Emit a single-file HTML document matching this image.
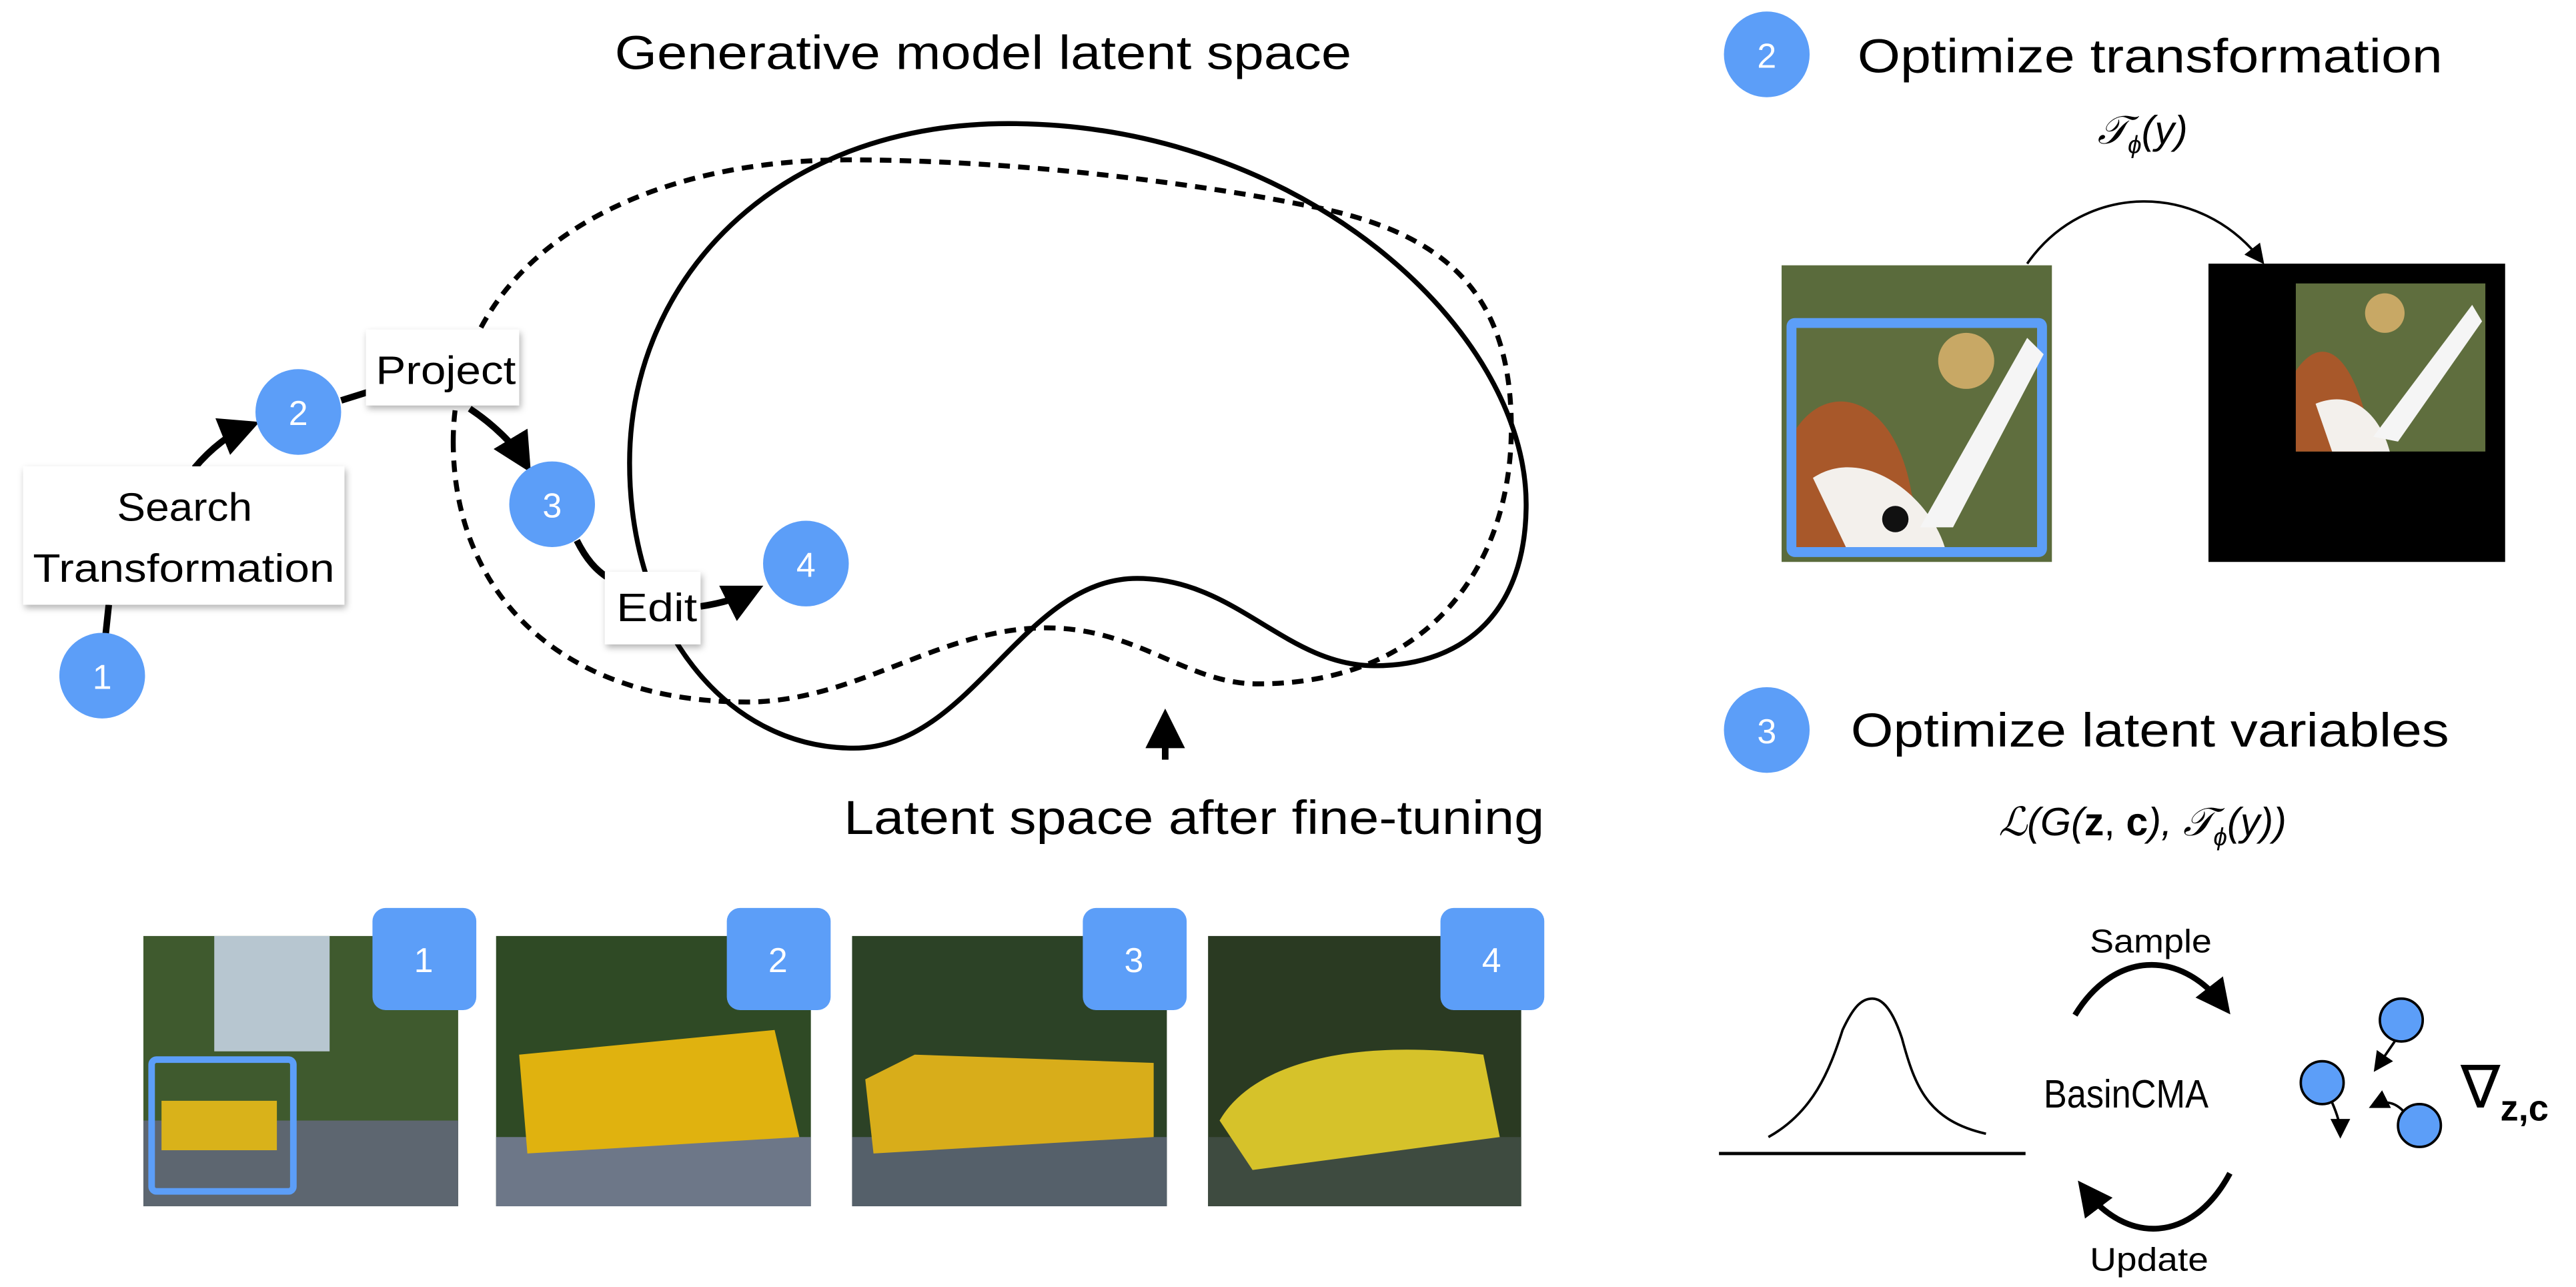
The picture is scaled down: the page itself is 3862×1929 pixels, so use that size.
<!DOCTYPE html>
<html><head><meta charset="utf-8"><style>
html,body{margin:0;padding:0;background:#fff;}
svg{display:block;}
text{font-family:"Liberation Sans",sans-serif;}
</style></head><body>
<svg width="3862" height="1929" viewBox="0 0 1563 781" preserveAspectRatio="none" xmlns="http://www.w3.org/2000/svg">
<defs>
<marker id="ah" markerWidth="6" markerHeight="6" refX="4" refY="3" orient="auto" markerUnits="strokeWidth"><path d="M0,0 L6,3 L0,6 Z" fill="#000"/></marker>
<marker id="ah2" markerWidth="8" markerHeight="8" refX="6" refY="4" orient="auto" markerUnits="strokeWidth"><path d="M0,0 L8,4 L0,8 Z" fill="#000"/></marker>
<filter id="sh" x="-20%" y="-20%" width="140%" height="150%"><feDropShadow dx="1" dy="2" stdDeviation="2" flood-color="#000" flood-opacity="0.3"/></filter>
</defs>

<text x="373" y="42" font-size="29" textLength="447" lengthAdjust="spacingAndGlyphs">Generative model latent space</text>

<!-- dashed curve -->
<path d="M275,268 C275,160 380,97 514,97 C640,97 760,118 789,124 C880,140 917,180 917,260 C917,340 870,415 763,415 C720,415 690,381 635,381 C570,381 520,426 453,426 C340,426 275,360 275,268 Z" fill="none" stroke="#000" stroke-width="3" stroke-dasharray="7,5"/>
<!-- solid curve -->
<path d="M612,75 C470,75 382,170 382,281 C382,380 440,454 518,454 C590,454 620,351 690,351 C750,351 780,404 834,404 C890,404 926,370 926,306 C926,200 790,75 612,75 Z" fill="none" stroke="#000" stroke-width="3"/>

<!-- connectors -->
<path d="M64,386 L66,367" stroke="#000" stroke-width="4" fill="none"/>
<path d="M118,284 C128,272 140,263 150,259" stroke="#000" stroke-width="4" fill="none" marker-end="url(#ah)"/>
<path d="M207,243 L223,238" stroke="#000" stroke-width="4"/>
<path d="M285,248 C300,258 312,270 318,280" stroke="#000" stroke-width="4" fill="none" marker-end="url(#ah)"/>
<path d="M350,328 C356,340 362,346 368,350" stroke="#000" stroke-width="4" fill="none"/>
<path d="M425,368 C438,366 448,363 456,359" stroke="#000" stroke-width="4" fill="none" marker-end="url(#ah)"/>
<path d="M707,461 L707,438" stroke="#000" stroke-width="4" marker-end="url(#ah)"/>

<!-- boxes -->
<rect x="14" y="283" width="195" height="84" fill="#fff" filter="url(#sh)"/>
<text x="71" y="316" font-size="24" textLength="82" lengthAdjust="spacingAndGlyphs">Search</text>
<text x="20" y="353" font-size="24" textLength="183" lengthAdjust="spacingAndGlyphs">Transformation</text>
<rect x="222" y="200" width="93" height="46" fill="#fff" filter="url(#sh)"/>
<text x="228" y="233" font-size="24" textLength="85" lengthAdjust="spacingAndGlyphs">Project</text>
<rect x="367" y="347" width="58" height="44" fill="#fff" filter="url(#sh)"/>
<text x="374" y="377" font-size="24" textLength="49" lengthAdjust="spacingAndGlyphs">Edit</text>

<!-- circles -->
<g fill="#5c9ef8">
<circle cx="62" cy="410" r="26"/><circle cx="181" cy="250" r="26"/><circle cx="335" cy="306" r="26"/><circle cx="489" cy="342" r="26"/>
</g>
<g fill="#fff" font-size="21" text-anchor="middle" font-weight="300">
<text x="62" y="418">1</text><text x="181" y="258">2</text><text x="335" y="314">3</text><text x="489" y="350">4</text>
</g>

<text x="512" y="506" font-size="29" textLength="425" lengthAdjust="spacingAndGlyphs">Latent space after fine-tuning</text>

<!-- bus images -->
<g>
<rect x="87" y="568" width="191" height="164" fill="#3f5a2e"/>
<rect x="87" y="680" width="191" height="52" fill="#5d6670"/>
<rect x="130" y="568" width="70" height="70" fill="#b7c6d0"/>
<rect x="92" y="643" width="86" height="80" fill="none" stroke="#5c9ef8" stroke-width="4" rx="3"/>
<rect x="98" y="668" width="70" height="30" fill="#d9b21a"/>
<rect x="301" y="568" width="191" height="164" fill="#2f4a25"/>
<rect x="301" y="690" width="191" height="42" fill="#6d7788"/>
<path d="M315,640 L470,625 L485,690 L320,700 Z" fill="#e0b20f"/>
<rect x="517" y="568" width="191" height="164" fill="#2c4226"/>
<rect x="517" y="690" width="191" height="42" fill="#55606a"/>
<path d="M525,655 L555,640 L700,645 L700,690 L530,700 Z" fill="#d8ad1a"/>
<rect x="733" y="568" width="190" height="164" fill="#2a3a22"/>
<rect x="733" y="690" width="190" height="42" fill="#3e4b40"/>
<path d="M740,680 C760,645 820,630 900,640 L910,690 L760,710 Z" fill="#d6c22a"/>
</g>
<g fill="#5c9ef8">
<rect x="226" y="551" width="63" height="62" rx="8"/><rect x="441" y="551" width="63" height="62" rx="8"/>
<rect x="657" y="551" width="63" height="62" rx="8"/><rect x="874" y="551" width="63" height="62" rx="8"/>
</g>
<g fill="#fff" font-size="21" text-anchor="middle" font-weight="300">
<text x="257" y="590">1</text><text x="472" y="590">2</text><text x="688" y="590">3</text><text x="905" y="590">4</text>
</g>

<!-- right top -->
<circle cx="1072" cy="33" r="26" fill="#5c9ef8"/>
<text x="1072" y="41" fill="#fff" font-size="21" text-anchor="middle">2</text>
<text x="1127" y="44" font-size="29" textLength="355" lengthAdjust="spacingAndGlyphs">Optimize transformation</text>
<text x="1300" y="87" font-size="24" text-anchor="middle" font-family="Liberation Serif" font-style="italic">𝒯<tspan font-size="15" dy="6">ϕ</tspan><tspan dy="-6">(y)</tspan></text>
<path d="M1230,160 C1265,110 1335,110 1372,158" fill="none" stroke="#000" stroke-width="1.5" marker-end="url(#ah2)"/>

<rect x="1081" y="161" width="164" height="180" fill="#5a6b3c"/>
<rect x="1084" y="193" width="158" height="145" rx="5" fill="#5c9ef8"/>
<rect x="1090" y="199" width="146" height="133" fill="#5f6e3e"/>
<circle cx="1193" cy="219" r="17" fill="#c8a865"/>
<path d="M1090,260 C1110,230 1150,240 1160,300 L1175,332 L1090,332 Z" fill="#a8582a"/>
<path d="M1100,290 C1130,270 1170,300 1180,332 L1120,332 Z" fill="#f3f0ec"/>
<path d="M1165,320 L1230,205 L1240,215 L1185,320 Z" fill="#f5f5f5"/>
<circle cx="1150" cy="315" r="8" fill="#111"/>

<rect x="1340" y="160" width="180" height="181" fill="#000"/>
<rect x="1393" y="172" width="115" height="102" fill="#5f6e3e"/>
<circle cx="1447" cy="190" r="12" fill="#c8a865"/>
<path d="M1393,225 C1410,200 1430,215 1440,274 L1393,274 Z" fill="#a8582a"/>
<path d="M1405,245 C1430,235 1445,255 1450,274 L1415,274 Z" fill="#f3f0ec"/>
<path d="M1440,265 L1500,185 L1506,195 L1455,268 Z" fill="#f5f5f5"/>

<!-- right middle -->
<circle cx="1072" cy="443" r="26" fill="#5c9ef8"/>
<text x="1072" y="451" fill="#fff" font-size="21" text-anchor="middle">3</text>
<text x="1123" y="453" font-size="29" textLength="363" lengthAdjust="spacingAndGlyphs">Optimize latent variables</text>
<text x="1300" y="507" font-size="24" text-anchor="middle" font-family="Liberation Serif"><tspan font-style="italic">ℒ(G(</tspan><tspan font-weight="bold">z</tspan>, <tspan font-weight="bold">c</tspan><tspan font-style="italic">), 𝒯</tspan><tspan font-size="15" dy="6" font-style="italic">ϕ</tspan><tspan dy="-6" font-style="italic">(y))</tspan></text>

<!-- BasinCMA -->
<line x1="1043" y1="700" x2="1229" y2="700" stroke="#000" stroke-width="2"/>
<path d="M1073,690 C1100,675 1110,650 1118,625 C1125,610 1130,606 1136,606 C1142,606 1148,612 1154,630 C1162,660 1170,680 1205,688" fill="none" stroke="#000" stroke-width="1.5"/>
<text x="1268" y="578" font-size="20" textLength="74" lengthAdjust="spacingAndGlyphs">Sample</text>
<path d="M1259,616 C1282,578 1322,575 1349,610" fill="none" stroke="#000" stroke-width="3.5" marker-end="url(#ah)"/>
<text x="1240" y="672" font-size="24" textLength="100" lengthAdjust="spacingAndGlyphs">BasinCMA</text>
<path d="M1353,712 C1330,755 1290,755 1265,722" fill="none" stroke="#000" stroke-width="3.5" marker-end="url(#ah)"/>
<text x="1268" y="771" font-size="20" textLength="72" lengthAdjust="spacingAndGlyphs">Update</text>

<g fill="#5c9ef8" stroke="#000" stroke-width="1.5">
<circle cx="1457" cy="619" r="13"/><circle cx="1409" cy="657" r="13"/><circle cx="1468" cy="683" r="13"/>
</g>
<path d="M1453,632 L1442,648" stroke="#000" stroke-width="1.5" marker-end="url(#ah2)"/>
<path d="M1415,669 C1418,676 1420,682 1420,688" stroke="#000" stroke-width="1.5" fill="none" marker-end="url(#ah2)"/>
<path d="M1458,674 C1452,668 1446,668 1440,671" stroke="#000" stroke-width="1.5" fill="none" marker-end="url(#ah2)"/>
<text x="1493" y="672" font-size="36" font-family="Liberation Serif">∇<tspan font-size="22" dy="8" font-weight="bold">z,c</tspan></text>
</svg>
</body></html>
